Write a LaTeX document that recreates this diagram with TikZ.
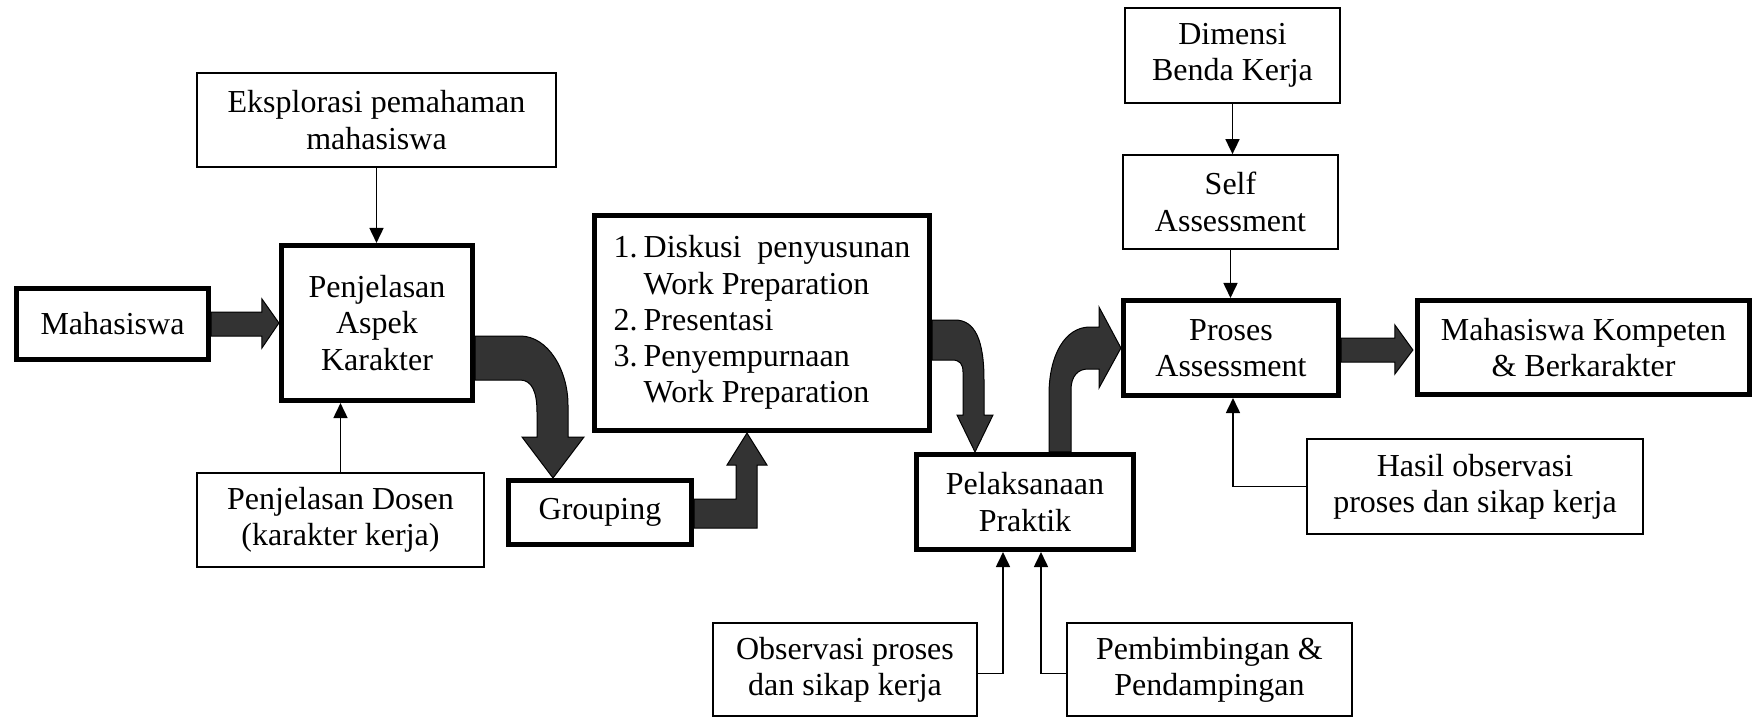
\documentclass[tikz,border=0pt]{standalone}
\usepackage{fontspec}
\setmainfont{Liberation Serif}
\usepackage{color}
\usepackage{tikz}
\usetikzlibrary{arrows.meta, calc}
\definecolor{arrowfill}{RGB}{51,51,51}

\begin{document}
\begin{tikzpicture}[x=0.01cm, y=-0.01cm,
	every node/.style={font=\fontsize{9.1}{10.3}\selectfont, inner sep=0pt, align=center},
	thin box/.style={draw, line width=0.017cm},
	thick box/.style={draw, line width=0.05cm},
	block arrow/.style={draw, fill=arrowfill, line width=0.01cm},
	>={Triangle[width=0.14cm,length=0.15cm]}, line width=0.017cm]
	\useasboundingbox (0,0) rectangle (1753,718);
	\node[thick box, minimum width=1.92cm, minimum height=0.71cm] (mhs) at (112.5,324) {Mahasiswa};
	\node[thin box, minimum width=3.59cm, minimum height=0.94cm] (eks) at (376.5,120) {Eksplorasi pemahaman\\mahasiswa};
	\node[thick box, minimum width=1.91cm, minimum height=1.55cm] (pak) at (377,323) {Penjelasan\\Aspek\\Karakter};
	\node[thin box, minimum width=2.87cm, minimum height=0.94cm] (dsn) at (340.5,520) {Penjelasan Dosen\\(karakter kerja)};
	\node[thick box, minimum width=1.83cm, minimum height=0.64cm] (grp) at (600,512.5) {Grouping};
	\node[thick box, minimum width=3.35cm, minimum height=2.15cm] (wp) at (762,323) {\begin{tabular}{@{}l@{\hspace{0.06cm}}l@{}}1. & Diskusi\ \ penyusunan\\ & Work Preparation\\2. & Presentasi\\3. & Penyempurnaan\\ & Work Preparation\end{tabular}};
	\node[thick box, minimum width=2.17cm, minimum height=0.95cm] (ppr) at (1025,502) {Pelaksanaan\\Praktik};
	\node[thin box, minimum width=2.64cm, minimum height=0.93cm] (obs) at (845,669.5) {Observasi proses\\dan sikap kerja};
	\node[thin box, minimum width=2.85cm, minimum height=0.93cm] (pbd) at (1209.5,669.5) {Pembimbingan \&\\Pendampingan};
	\node[thin box, minimum width=2.15cm, minimum height=0.95cm] (dim) at (1232.5,55.5) {Dimensi\\Benda Kerja};
	\node[thin box, minimum width=2.15cm, minimum height=0.94cm] (sas) at (1230.5,202) {Self\\Assessment};
	\node[thick box, minimum width=2.15cm, minimum height=0.95cm] (pas) at (1231,348) {Proses\\Assessment};
	\node[thick box, minimum width=3.32cm, minimum height=0.94cm] (mkb) at (1583.5,347.5) {Mahasiswa Kompeten\\\& Berkarakter};
	\node[thin box, minimum width=3.36cm, minimum height=0.95cm] (hsl) at (1475,486.5) {Hasil observasi\\proses dan sikap kerja};

	\draw[->] (eks) -- (eks |- pak.north);
	\draw[->] (dsn) -- (dsn |- pak.south);
	\draw[->] (dim) -- (dim |- sas.north);
	\draw[->] (sas) -- (sas |- pas.north);
	\draw[->] (hsl.west) -| ($(pas.south)+(2,0)$);
	\draw[->] ($(obs.east)+(0,4)$) -| ($(ppr.south)+(-22,0)$);
	\draw[->] ($(pbd.west)+(0,4)$) -| ($(ppr.south)+(16,0)$);

	\draw[block arrow] ($(mhs.east)+(0,-12)$) -- ($(pak.west)+(-17,-11)$) -- ($(pak.west)+(-17,-24)$) -- (pak.west) -- ($(pak.west)+(-17,25)$) -- ($(pak.west)+(-17,13)$) -- ($(mhs.east)+(0,12)$) -- cycle;
	\draw[block arrow] ($(pak.east)+(0,13)$) -- (520,336) .. controls (548,336) and (568,370) .. (568,405) -- (568,437) -- (584,437) -- ($(grp.north)+(-47,0)$) -- (522,437) -- (537,437) -- (537,412) .. controls (537,392) and (532,380) .. (520,380) -- ($(pak.east)+(0,57)$) -- cycle;
	\draw[block arrow] ($(grp.east)+(0,-13.5)$) -- ($(wp.south)+(-26,66)$) -- ($(wp.south)+(-26,32)$) -- ($(wp.south)+(-35,32)$) -- ($(wp.south)+(-15,0)$) -- ($(wp.south)+(5,32)$) -- ($(wp.south)+(-5,32)$) -- ($(wp.south)+(-5,95)$) -- ($(grp.east)+(0,15.5)$) -- cycle;
	\draw[block arrow] ($(wp.east)+(0,-3)$) -- (955,320) .. controls (975,320) and (984,340) .. (984,380) -- (984,415) -- (993,415) -- ($(ppr.north)+(-50,0)$) -- (957,415) -- (963,415) -- (963,372) .. controls (963,364) and (960,360) .. (952,360) -- ($(wp.east)+(0,37)$) -- cycle;
	\draw[block arrow] ($(ppr.north)+(24,0)$) -- (1049,395) .. controls (1049,355) and (1065,327) .. (1090,327) -- (1099,327) -- (1099,307) -- (pas.west) -- (1099,388) -- (1099,369) -- (1088,369) .. controls (1078,369) and (1071,376) .. (1071,390) -- ($(ppr.north)+(46,0)$) -- cycle;
	\draw[block arrow] ($(pas.east)+(0,-10)$) -- ($(mkb.west)+(-20,-9.5)$) -- ($(mkb.west)+(-20,-22.5)$) -- ($(mkb.west)+(-2,2.5)$) -- ($(mkb.west)+(-20,26.5)$) -- ($(mkb.west)+(-20,14.5)$) -- ($(pas.east)+(0,14)$) -- cycle;
\end{tikzpicture}
\end{document}
